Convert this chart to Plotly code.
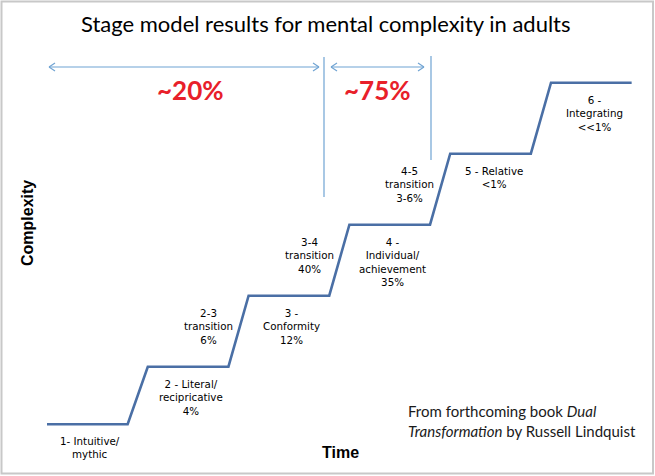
import plotly.graph_objects as go

W, H = 655, 476

# ---- data ----
stage_names = ["1- Intuitive/<br>mythic", "2 - Literal/<br>recipricative", "3 -<br>Conformity",
               "4 -<br>Individual/<br>achievement", "5 - Relative", "6 -<br>Integrating"]
stage_pct = ["", "4%", "12%", "35%", "&lt;1%", "&lt;&lt;1%"]
stage_start = [0, 1, 2, 3, 4, 5]          # time at which each plateau starts
plateau_len = 0.8                          # time length of each plateau
complexity = [0.19, 1, 2, 3, 4, 5]         # complexity level of each stage
trans_names = ["2-3<br>transition", "3-4<br>transition", "4-5<br>transition"]
trans_pct = ["6%", "40%", "3-6%"]
group_labels = ["~20%", "~75%"]

# ---- build step line ----
xs, ys = [], []
for s, c in zip(stage_start, complexity):
    xs += [s, s + plateau_len]
    ys += [c, c]

fig = go.Figure()
fig.add_trace(go.Scatter(x=xs, y=ys, mode="lines",
                         line=dict(color="#4a6fa5", width=2.6), hoverinfo="skip"))

XR = [-47 / 100.8, (W - 47) / 100.8]
YR = [1 - (H - 366.7) / 71, 1 + 366.7 / 71]

def P(x, y):
    return x / W, 1 - y / H

ann = []
lab_font = dict(family="DejaVu Sans", size=10.3, color="#000")
for s, c, n, p in zip(stage_start, complexity, stage_names, stage_pct):
    t = n + ("<br>" + p if p else "")
    ann.append(dict(x=s + plateau_len / 2 + 0.03, y=c, xref="x", yref="y", text=t,
                    showarrow=False, xanchor="center", yanchor="top", yshift=-9,
                    font=lab_font, align="center"))
for i, (n, p) in enumerate(zip(trans_names, trans_pct)):
    k = stage_start[i + 1]
    ann.append(dict(x=k + 0.6, y=complexity[i + 1], xref="x", yref="y", text=n + "<br>" + p,
                    showarrow=False, xanchor="center", yanchor="bottom", yshift=19,
                    font=lab_font, align="center"))

def txt(x, y, t, size, family, color="#111", xanchor="center", angle=0, align="center"):
    px, py = P(x, y)
    ann.append(dict(x=px, y=py, xref="paper", yref="paper", text=t, showarrow=False,
                    xanchor=xanchor, yanchor="middle", textangle=angle, align=align,
                    font=dict(family=family, size=size, color=color)))

txt(326, 23, "Stage model results for mental complexity in adults", 22, "Lato", color="#000")
txt(190, 90, "<b>" + group_labels[0] + "</b>", 26, "Lato", color="#e8202a")
txt(377, 90, "<b>" + group_labels[1] + "</b>", 26, "Lato", color="#e8202a")
txt(27, 223, "<b>Complexity</b>", 16, "Liberation Sans", color="#000", angle=-90)
txt(340, 452, "<b>Time</b>", 16, "Liberation Sans", color="#000")
txt(406, 421, "From forthcoming book <i>Dual</i><br><i>Transformation</i> by Russell Lindquist",
    15, "Lato", color="#1a1a1a", xanchor="left", align="left")

shapes = []
ac = "#6fa3d3"
def seg(x0, y0, x1, y1, color=ac, width=1.2):
    a, b = P(x0, y0)
    c, d = P(x1, y1)
    shapes.append(dict(type="line", xref="paper", yref="paper", x0=a, y0=b, x1=c, y1=d,
                       line=dict(color=color, width=width)))

def harrow(x0, x1, y):
    seg(x0, y, x1, y)
    seg(x0, y, x0 + 6, y - 4); seg(x0, y, x0 + 6, y + 4)
    seg(x1, y, x1 - 6, y - 4); seg(x1, y, x1 - 6, y + 4)

harrow(49, 319, 67)
harrow(331, 424, 67)
seg(324, 57, 324, 197)
seg(431, 56, 431, 160)

# frame
a, b = P(1.5, 1.5); c, d = P(653, 473.5)
shapes.append(dict(type="rect", xref="paper", yref="paper", x0=a, y0=b, x1=c, y1=d,
                   line=dict(color="#c8c8c8", width=2)))

fig.update_layout(width=W, height=H, margin=dict(l=0, r=0, t=0, b=0),
                  paper_bgcolor="white", plot_bgcolor="white", showlegend=False,
                  xaxis=dict(range=XR, visible=False, fixedrange=True),
                  yaxis=dict(range=YR, visible=False, fixedrange=True),
                  annotations=ann, shapes=shapes)

fig.write_html("out.html", config={"displayModeBar": False},
               post_script="document.body.style.margin='0';")
